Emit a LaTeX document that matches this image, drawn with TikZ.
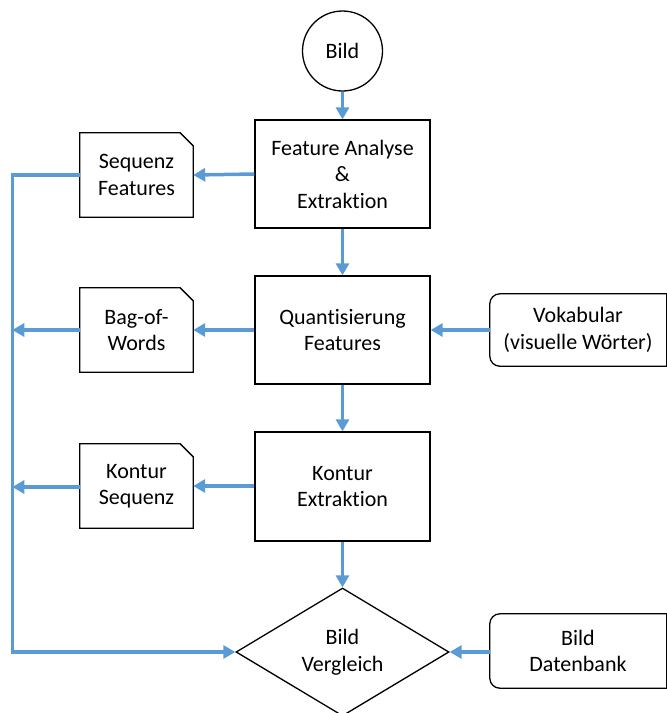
\documentclass[tikz,border=0pt]{standalone}
\usepackage{fontspec}
\setmainfont{Carlito}[Ligatures=NoCommon]
\usetikzlibrary{arrows.meta,shapes.geometric}

\definecolor{flowblue}{HTML}{5B9BD5}

\tikzset{
  txt/.style={font=\fontsize{22}{26.5}\selectfont, align=center, inner sep=0pt},
  procbox/.style={txt, draw, line width=1.3pt, minimum width=175pt, minimum height=108pt},
  docbox/.style={txt, minimum width=113pt, minimum height=84pt},
  srcbox/.style={txt, minimum width=176pt, minimum height=72pt},
  outline/.style={line width=1.3pt, line join=miter},
  flow/.style={draw=flowblue, line width=3.5pt, -{Triangle[length=12pt,width=13pt]}},
  link/.style={draw=flowblue, line width=3.5pt}
}

\begin{document}
\begin{tikzpicture}[x=1pt,y=-1pt]
\clip (0,0) rectangle (667,713);
\useasboundingbox (0,0) rectangle (667,713);

% start
\node[txt, draw, circle, line width=1.3pt, minimum size=80pt] (bild) at (342.5,51) {Bild};

% processing steps
\node[procbox] (fa) at (342.5,174) {Feature Analyse\\\&\\Extraktion};
\node[procbox] (qf) at (342.5,330) {Quantisierung\\Features};
\node[procbox, minimum height=109pt] (ke) at (342.5,486.5) {Kontur\\Extraktion};
\node[txt, draw, diamond, aspect=1.66, line width=1.3pt,
      minimum width=213pt, minimum height=128pt] (bv) at (342.5,652) {Bild\\Vergleich};

% intermediate documents
\node[docbox] (sf) at (136.5,175) {Sequenz\\Features};
\node[docbox] (bw) at (136.5,330) {Bag-of-\\Words};
\node[docbox] (ks) at (136.5,486) {Kontur\\Sequenz};
\foreach \d in {sf,bw,ks}{
  \draw[outline] (\d.north west) -- ([xshift=-13pt]\d.north east)
    -- ([yshift=-13pt]\d.north east) -- (\d.south east) -- (\d.south west) -- cycle;
}

% external sources (right side runs into the page edge)
\node[srcbox] (vk) at (578,330) {Vokabular\\(visuelle Wörter)};
\node[srcbox, minimum height=74pt] (db) at (578,651) {Bild\\Datenbank};
\foreach \s in {vk,db}{
  \draw[outline, rounded corners=10pt] ([xshift=4pt]\s.north east) -- (\s.north west)
    -- (\s.south west) -- ([xshift=4pt]\s.south east);
  \draw[outline] ([xshift=0.4pt]\s.north east) -- ([xshift=0.4pt]\s.south east);
}

% collecting line on the left
\coordinate (top) at (14,175);
\coordinate (mid1) at (14,330);
\coordinate (mid2) at (14,487);
\coordinate (bot) at (14,652);

% connectors
\draw[flow] (bild) -- (fa);
\draw[flow] (fa) -- (qf);
\draw[flow] (qf) -- (ke);
\draw[flow] (ke) -- (bv);
\draw[flow] (fa.west) -- (sf.east);
\draw[flow] (qf.west) -- (bw.east);
\draw[flow] (ke.west |- ks.east) -- (ks.east);
\draw[flow] (vk.west) -- (qf.east);
\draw[flow] (db.west |- bv.east) -- (bv.east);
\draw[flow] (bw.west) -- ([xshift=-1.75pt]mid1);
\draw[flow] (ks.west |- mid2) -- ([xshift=-1.75pt]mid2);
\draw[link, line join=miter] (sf.west) -- ([xshift=-1.75pt]top) -- ([xshift=-1.75pt]bot) -- (bot);
\draw[flow] ([xshift=-1.75pt]bot) -- (bv.west);
\end{tikzpicture}
\end{document}
